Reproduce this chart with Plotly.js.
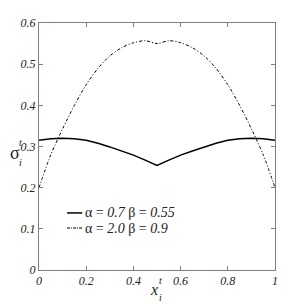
<!DOCTYPE html>
<html>
<head>
<meta charset="utf-8">
<script src="https://cdn.plot.ly/plotly-3.0.1.min.js"></script>
<style>html,body{margin:0;padding:0;background:#fff;}#chart{width:303px;height:304px;}</style>
</head>
<body>
<div id="chart"></div>
<script>
const xValues = [0, 0.05, 0.1, 0.15, 0.2, 0.25, 0.3, 0.35, 0.4, 0.45, 0.5, 0.55, 0.6, 0.65, 0.7, 0.75, 0.8, 0.85, 0.9, 0.95, 1];
const sigmaA = [0.315, 0.319, 0.320, 0.319, 0.315, 0.308, 0.299, 0.289, 0.279, 0.267, 0.254, 0.267, 0.279, 0.289, 0.299, 0.308, 0.315, 0.319, 0.320, 0.319, 0.315];
const sigmaB = [0.200, 0.280, 0.343, 0.400, 0.450, 0.490, 0.520, 0.540, 0.552, 0.557, 0.550, 0.557, 0.552, 0.540, 0.520, 0.490, 0.450, 0.400, 0.343, 0.280, 0.200];
const seriesNames = ['α = <i>0.7</i> β = <i>0.55</i>', 'α = <i>2.0</i> β = <i>0.9</i>'];
const xTicks = [0, 0.2, 0.4, 0.6, 0.8, 1];
const xTickText = ['0', '0.2', '0.4', '0.6', '0.8', '1'];
const yTicks = [0, 0.1, 0.2, 0.3, 0.4, 0.5, 0.6];
const yTickText = ['0', '0.1', '0.2', '0.3', '0.4', '0.5', '0.6'];

const serif = 'Liberation Serif';
const styles = [
  {color: '#000', width: 1.5},
  {color: '#000', width: 1, dash: '3px,2px,1px,2px', shape: 'spline', smoothing: 0.8}
];
const traces = [
  {x: xValues, y: sigmaA, name: seriesNames[0], mode: 'lines', line: styles[0], showlegend: false},
  {x: xValues, y: sigmaB, name: seriesNames[1], mode: 'lines', line: styles[1], showlegend: false}
];
const axisCommon = {
  showgrid: false, zeroline: false, showline: true, linecolor: '#7f7f7f', linewidth: 1,
  mirror: 'ticks', ticks: 'inside', ticklen: 4, tickcolor: '#7f7f7f',
  tickfont: {family: serif, size: 12, color: '#222', style: 'italic'}
};
// compact legend drawn as shapes + annotations
const legendRowsY = [0.231, 0.170];
const legendShapes = seriesNames.map((n, i) => ({
  type: 'line', xref: 'paper', yref: 'paper', x0: 0.119, x1: 0.183, y0: legendRowsY[i], y1: legendRowsY[i],
  line: {color: '#000', width: styles[i].width, dash: i === 1 ? '3px,1px,1px,1px' : 'solid'}
}));
const legendTexts = seriesNames.map((n, i) => ({
  text: n, xref: 'paper', yref: 'paper', x: 0.186, y: legendRowsY[i], xanchor: 'left', yanchor: 'middle',
  showarrow: false, font: {family: serif, size: 14, color: '#222'}
}));
const lbl = (text, x, y, size) => ({text: text, xref: 'paper', yref: 'paper', x: x, y: y, xanchor: 'center', yanchor: 'middle',
  showarrow: false, borderpad: 0, font: {family: serif, size: size, color: '#222'}});
const layout = {
  width: 303, height: 304,
  margin: {l: 39, r: 28, t: 23, b: 34},
  paper_bgcolor: '#fff', plot_bgcolor: '#fff',
  showlegend: false,
  xaxis: Object.assign({}, axisCommon, {range: [0, 1], tickvals: xTicks, ticktext: xTickText}),
  yaxis: Object.assign({}, axisCommon, {range: [0, 0.6], tickvals: yTicks, ticktext: yTickText}),
  shapes: legendShapes,
  annotations: legendTexts.concat([
    lbl('σ', -0.1, 0.474, 18),
    lbl('<i>t</i>', -0.077, 0.518, 10),
    lbl('<i>i</i>', -0.08, 0.435, 10),
    lbl('<i>x</i>', 0.487, -0.08, 16),
    lbl('<i>t</i>', 0.514, -0.043, 10),
    lbl('<i>i</i>', 0.514, -0.112, 10)
  ])
};
Plotly.newPlot('chart', traces, layout, {displayModeBar: false, staticPlot: true});
</script>
</body>
</html>
